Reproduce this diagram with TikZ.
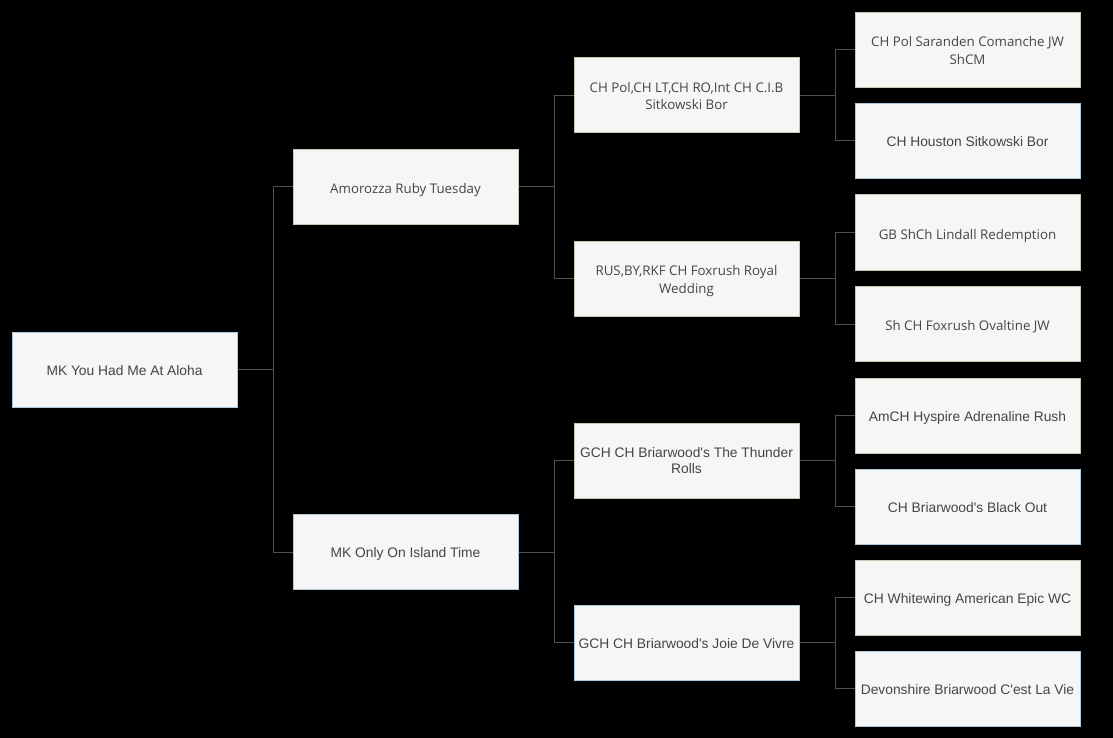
\documentclass[tikz,border=0pt]{standalone}
\usepackage{fontspec}
\newfontfamily\arialfont{Liberation Sans}
\newfontfamily\segfont{Open Sans}
\definecolor{boxfill}{HTML}{F6F6F6}
\definecolor{tanline}{HTML}{C9C9B3}
\definecolor{blueline}{HTML}{AFC8DA}
\definecolor{txt}{HTML}{454545}
\definecolor{wire}{HTML}{505050}
\begin{document}
\begin{tikzpicture}[x=1pt,y=-1pt,
  person/.style={draw, line width=1pt, fill=boxfill, minimum width=225pt, minimum height=75pt,
    inner sep=0pt, align=center, text=txt, font=\arialfont\fontsize{13.8}{16}\selectfont,
    text height=12.5pt, text depth=1pt},
  tan/.style={person, draw=tanline},
  blue/.style={person, draw=blueline},
  seg/.style={font=\segfont\fontsize{13.3}{17.7}\selectfont, text height=14pt},
  twoseg/.style={seg, text height=30pt},
  twoarial/.style={text height=27.4pt},
  wire/.style={draw=wire, line width=1pt}]
\fill[black] (0,0) rectangle (1113,738);
\useasboundingbox (0,0) rectangle (1113,738);
% generation 0
\node[blue] (root) at (124.5,369.5) {MK You Had Me At Aloha};
% generation 1
\node[tan,seg] (a) at (405.5,187) {Amorozza Ruby Tuesday};
\node[blue] (b) at (405.5,552) {MK Only On Island Time};
% generation 2
\node[tan,twoseg] (aa) at (686.5,95.5) {CH Pol,CH LT,CH RO,Int CH C.I.B\\Sitkowski Bor};
\node[tan,twoseg] (ab) at (686.5,278.5) {RUS,BY,RKF CH Foxrush Royal\\Wedding};
\node[tan,twoarial] (ba) at (686.5,460.5) {GCH CH Briarwood's The Thunder\\Rolls};
\node[blue] (bb) at (686.5,642.5) {GCH CH Briarwood's Joie De Vivre};
% generation 3
\node[tan,twoseg] (aaa) at (967.5,50) {CH Pol Saranden Comanche JW\\ShCM};
\node[blue] (aab) at (967.5,141) {CH Houston Sitkowski Bor};
\node[tan,seg] (aba) at (967.5,232.5) {GB ShCh Lindall Redemption};
\node[tan,seg] (abb) at (967.5,324) {Sh CH Foxrush Ovaltine JW};
\node[tan] (baa) at (967.5,415.5) {AmCH Hyspire Adrenaline Rush};
\node[blue] (bab) at (967.5,506.5) {CH Briarwood's Black Out};
\node[tan] (bba) at (967.5,597.5) {CH Whitewing American Epic WC};
\node[blue] (bbb) at (967.5,688.5) {Devonshire Briarwood C'est La Vie};
% connectors
\foreach \p/\c in {root/a,root/b,a/aa,a/ab,b/ba,b/bb,aa/aaa,aa/aab,ab/aba,ab/abb,ba/baa,ba/bab,bb/bba,bb/bbb}
  \draw[wire] (\p.east) -- ++(36,0) |- (\c.west);
\end{tikzpicture}
\end{document}
